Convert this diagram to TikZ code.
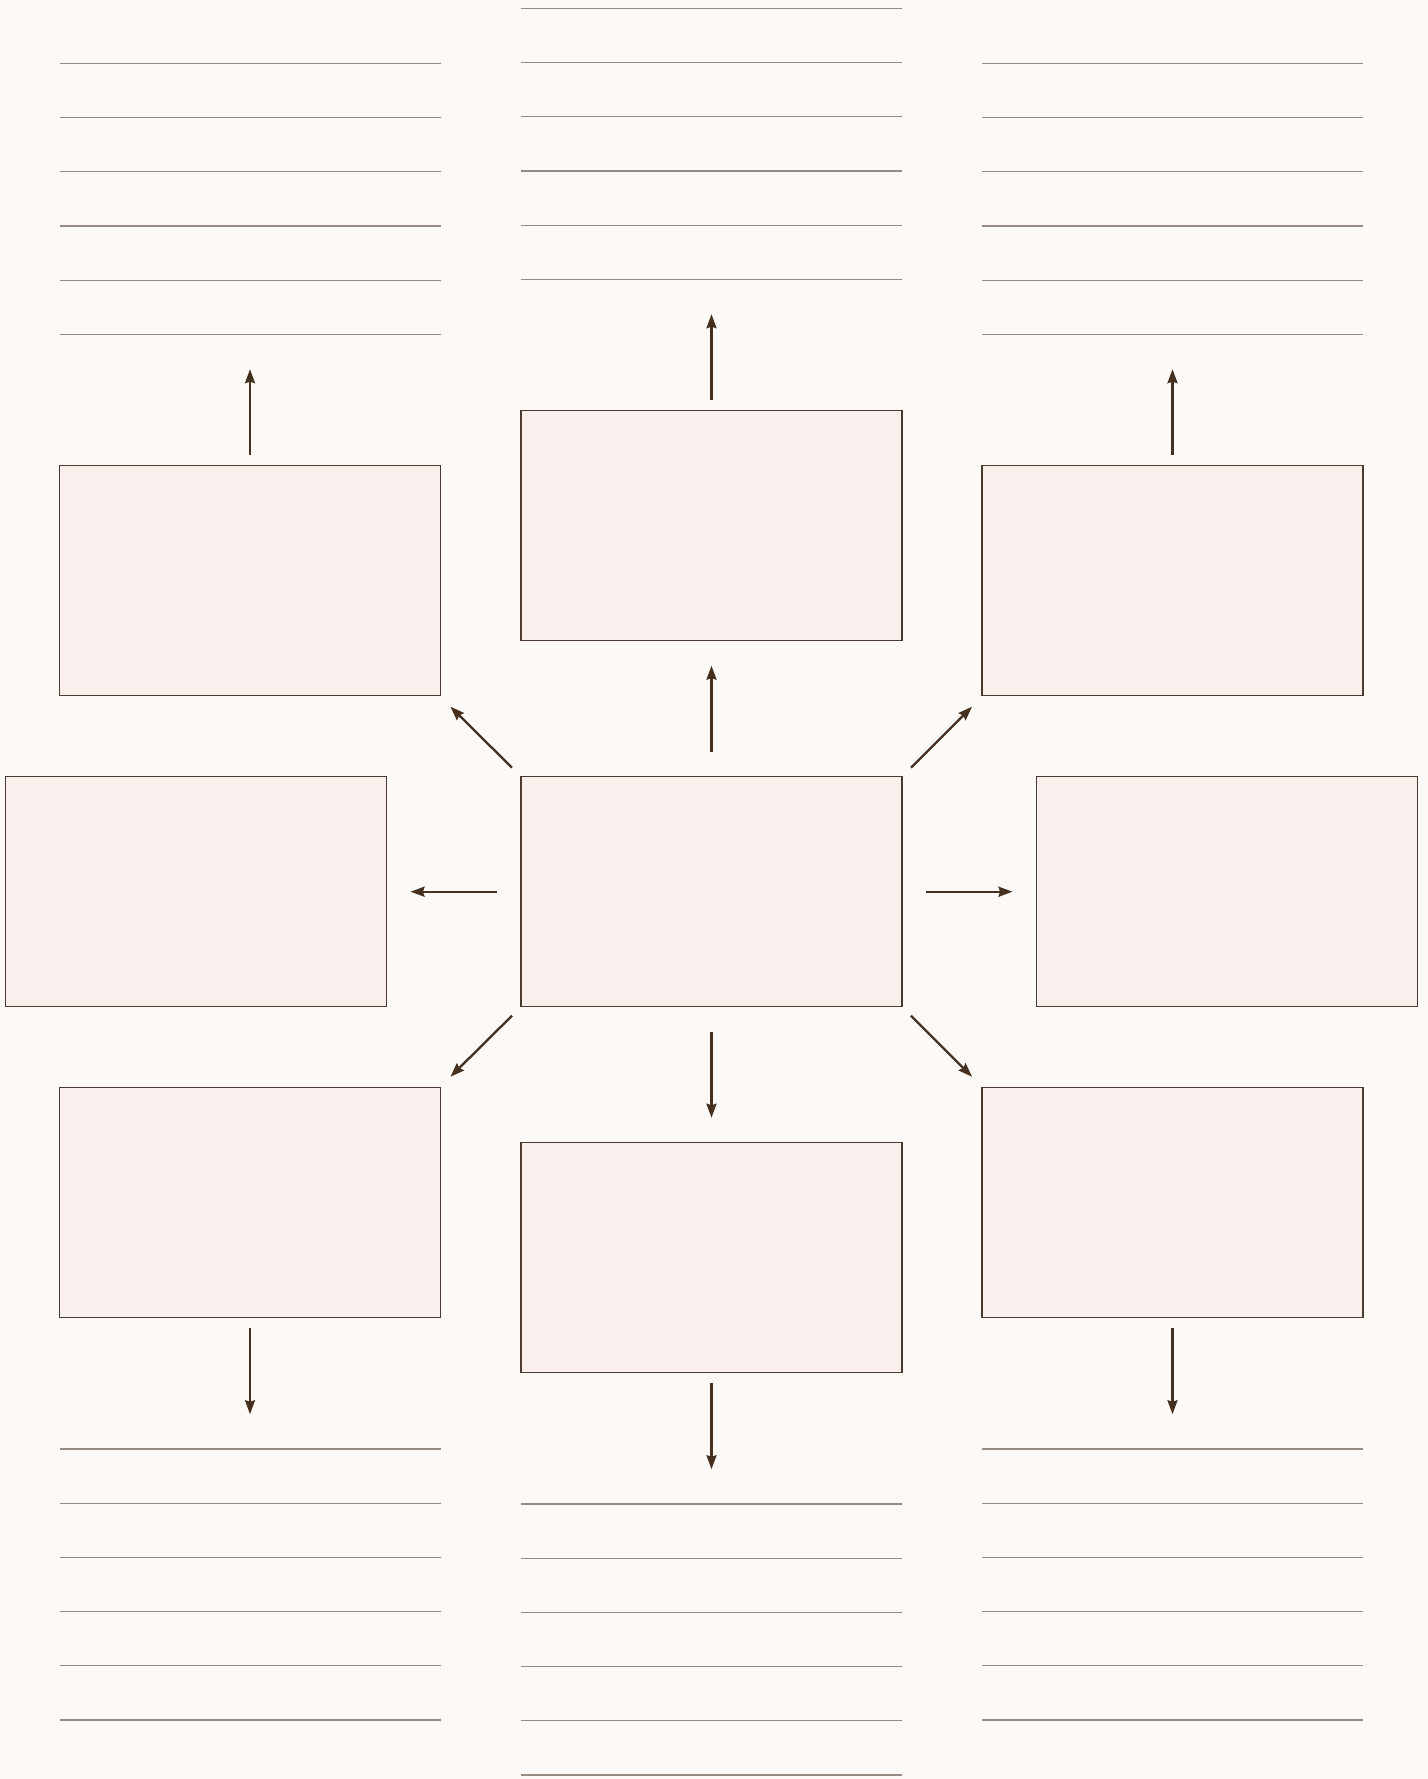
\documentclass[tikz,border=0pt]{standalone}
\usetikzlibrary{arrows.meta}
\definecolor{bgc}{HTML}{FCF9F6}
\definecolor{boxfill}{HTML}{F9F0ED}
\definecolor{boxline}{HTML}{4A3A30}
\definecolor{rulec}{HTML}{978A82}
\definecolor{arrc}{HTML}{45301F}
\begin{document}
\begin{tikzpicture}[x=0.5pt,y=-0.5pt,
  cbox/.style={draw=boxline,fill=boxfill,line width=0.6pt,minimum width=190.5pt,minimum height=115pt,inner sep=0pt,outer sep=0pt},
  arr/.style={draw=arrc,line width=1.15pt,-{Stealth[length=7pt,width=5pt,inset=0.8pt]}},
  rul/.style={draw=rulec,line width=0.6pt}]
\fill[bgc] (0,0) rectangle (1428,1779);
\useasboundingbox (0,0) rectangle (1428,1779);
% boxes
\node[cbox] (c) at (711.5,891.7) {};
\node[cbox] (t) at (711.5,525.7) {};
\node[cbox] (b) at (711.5,1257.7) {};
\node[cbox] (tl) at (250,580.7) {};
\node[cbox] (tr) at (1172.5,580.7) {};
\node[cbox] (bl) at (250,1202.7) {};
\node[cbox] (br) at (1172.5,1202.7) {};
\node[cbox] (l) at (196,891.7) {};
\node[cbox] (r) at (1227,891.7) {};
% ruled lines above top boxes
\foreach \n in {t,tl,tr}{
  \foreach \k in {0,...,5}{
    \draw[rul] ([shift={(0,-131.3-54.2*\k)}]\n.north west) -- ([shift={(0,-131.3-54.2*\k)}]\n.north east);
  }
}
% ruled lines below bottom boxes
\foreach \n in {b,bl,br}{
  \foreach \k in {0,...,5}{
    \draw[rul] ([shift={(0,131.3+54.2*\k)}]\n.south west) -- ([shift={(0,131.3+54.2*\k)}]\n.south east);
  }
}
% arrows from outer boxes to ruled areas
\foreach \n in {t,tl,tr}{
  \draw[arr] ([shift={(0,-10.5)}]\n.north) -- ([shift={(0,-96.5)}]\n.north);
}
\foreach \n in {b,bl,br}{
  \draw[arr] ([shift={(0,10.5)}]\n.south) -- ([shift={(0,96.5)}]\n.south);
}
% arrows from center
\draw[arr] ([shift={(0,-25)}]c.north) -- ([shift={(0,25)}]t.south);
\draw[arr] ([shift={(0,25)}]c.south) -- ([shift={(0,-25)}]b.north);
\draw[arr] ([shift={(-24,0)}]c.west) -- ([shift={(24,0)}]l.east);
\draw[arr] ([shift={(24,0)}]c.east) -- ([shift={(-24,0)}]r.west);
\draw[arr] ([shift={(-9,-9)}]c.north west) -- ([shift={(10,11)}]tl.south east);
\draw[arr] ([shift={(9,-9)}]c.north east) -- ([shift={(-10,11)}]tr.south west);
\draw[arr] ([shift={(-9,9)}]c.south west) -- ([shift={(10,-11)}]bl.north east);
\draw[arr] ([shift={(9,9)}]c.south east) -- ([shift={(-10,-11)}]br.north west);
\end{tikzpicture}
\end{document}
